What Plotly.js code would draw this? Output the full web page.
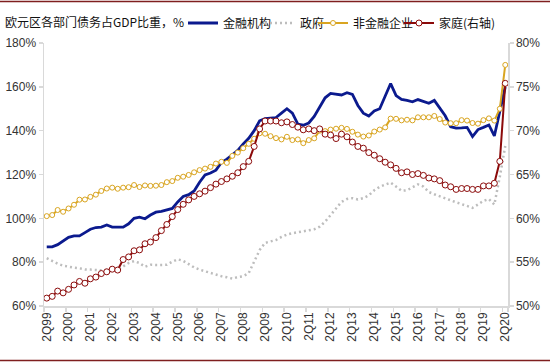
<!DOCTYPE html>
<html>
<head>
<meta charset="utf-8">
<script src="https://cdn.plot.ly/plotly-3.0.1.min.js"></script>
<style>
html,body{margin:0;padding:0;background:#fff;}
#chart{width:550px;height:362px;}
</style>
</head>
<body>
<div id="chart"></div>
<script>
// ---- Data ----
const tickLabels = ['2Q99','2Q00','2Q01','2Q02','2Q03','2Q04','2Q05','2Q06','2Q07','2Q08','2Q09','2Q10','2Q11','2Q12','2Q13','2Q14','2Q15','2Q16','2Q17','2Q18','2Q19','2Q20'];

// quarterly categories 2Q99 .. 2Q20
const quarters = [];
for (let y = 1999; y <= 2020; y++) {
  for (let q = 1; q <= 4; q++) {
    if ((y === 1999 && q < 2) || (y === 2020 && q > 2)) continue;
    quarters.push(q + 'Q' + String(y).slice(2));
  }
}

const seriesNames = ['金融机构', '政府', '非金融企业', '家庭(右轴)'];

const financial = [87, 87, 88, 89.5, 91.3, 92, 92, 93.5, 95, 95.8,
  96, 97, 96, 96, 96, 97.5, 100, 100.5, 99.8, 101.5,
  102.8, 103.2, 104, 104.5, 107.5, 110, 110.8, 112.5, 116.5, 119.8,
  120.7, 122, 125.5, 127, 129, 131, 134, 136.5, 140, 144.5,
  145.5, 145.7, 146, 148, 150, 148, 143, 142.5, 143.5, 146.5,
  150.5, 155, 157, 156.5, 156.3, 157.3, 156.5, 151.5, 148, 146.7,
  149, 150, 155.5, 161.5, 156, 154.3, 153.8, 153.2, 154.2, 153.5,
  152.5, 153.8, 150, 146.8, 141.8, 141.2, 141.3, 141.5, 137.3, 140.5,
  141.5, 142.6, 137.6, 149.5, 160];

const government = [81.8, 80.5, 79.3, 78.4, 77.8, 77.5, 77.2, 76.7, 76.6, 76.3,
  76.3, 76.5, 75.8, 76.5, 78.2, 79.6, 80.5, 79.6, 77.9, 78.8,
  78.7, 78.6, 78.8, 80.2, 81.3, 80.6, 79, 77.6, 76.6, 75.8,
  75.1, 74.3, 73.6, 73.1, 72.5, 73.2, 73.6, 75, 80, 85.5,
  88.8, 89.6, 90.1, 91.5, 92.6, 93.2, 93.6, 94, 94.5, 95,
  96.2, 98.5, 101.5, 104.5, 107.5, 108.8, 109.2, 108.6, 109.2, 110.5,
  112.8, 114.4, 115.2, 116.3, 114.5, 112.6, 112.8, 114.2, 115.5, 114.5,
  112, 111, 110, 109, 108, 107.3, 106.5, 105.8, 104.8, 106.3,
  108, 108.8, 106.3, 119, 133];

const nonFinancial = [101, 101.5, 103.8, 103, 104.5, 106.2, 108.5, 108.6, 109.8, 110.8,
  112.5, 113.6, 114, 113.5, 114, 114.2, 115.2, 114.3, 115, 114.8,
  114.9, 115.2, 116.5, 117, 118.5, 119, 119.8, 121, 122, 122.7,
  123.5, 125, 125.8, 125.3, 128.5, 130, 132, 134, 136.3, 138.8,
  138.6, 137.5, 136.6, 136, 137.2, 135.7, 136, 134.3, 135.7, 136.5,
  140, 139.8, 140.5, 140.9, 141.3, 140.8, 139.5, 138.2, 137.3, 137.8,
  139.6, 140.5, 141.5, 145.5, 145.4, 144.7, 145, 144.7, 146.1, 146.1,
  146.1, 146.7, 145.3, 143.7, 143.4, 143.4, 144.8, 144.6, 143.5, 143.2,
  144.8, 145.6, 144.6, 150, 170];

const household = [50.9, 51.1, 51.7, 51.5, 51.9, 52.4, 52.8, 52.6, 53.1, 53.3,
  53.7, 53.9, 54.2, 54.1, 55.3, 55.6, 56.3, 56.4, 57.1, 57.3,
  57.8, 58.6, 59.3, 60.2, 61.0, 61.6, 62.1, 62.5, 62.8, 63.1,
  63.5, 63.9, 64.2, 64.5, 64.8, 65.2, 65.9, 66.5, 68.2, 70.2,
  71.1, 71.1, 71.1, 70.9, 71.0, 70.7, 70.4, 70.1, 70.2, 70.0,
  70.2, 69.6, 69.5, 69.1, 69.6, 69.3, 68.7, 68.2, 68.0, 67.5,
  67.2, 66.8, 66.4, 66.1, 65.7, 65.2, 65.3, 65.0, 65.1, 64.9,
  64.6, 64.5, 64.3, 63.8, 63.6, 63.3, 63.4, 63.4, 63.3, 63.3,
  63.7, 63.7, 64.0, 66.5, 75.4];

// ---- Styles ----
const C_NAVY = '#0B1A8E', C_GREY = '#BDBDBD', C_GOLD = '#D9A521', C_RED = '#8B0A0A';
const AX = '#D9D9D9';
const TXT = '#333333';
const CJK = '"Noto Sans CJK SC", "Noto Sans", sans-serif';
const LAT = '"Liberation Sans", Arial, sans-serif';

const traces = [
  { x: quarters, y: government, name: seriesNames[1], type: 'scatter', mode: 'lines',
    line: { color: C_GREY, width: 2.5, dash: '2px,3px' }, legend: 'legend2', yaxis: 'y' },
  { x: quarters, y: financial, name: seriesNames[0], type: 'scatter', mode: 'lines',
    line: { color: C_NAVY, width: 2.8 }, legend: 'legend', yaxis: 'y' },
  { x: quarters, y: nonFinancial, name: seriesNames[2], type: 'scatter', mode: 'lines+markers',
    line: { color: C_GOLD, width: 2 },
    marker: { symbol: 'circle', size: 5, color: '#ffffff', line: { color: C_GOLD, width: 1 } },
    legend: 'legend3', yaxis: 'y' },
  { x: quarters, y: household, name: seriesNames[3], type: 'scatter', mode: 'lines+markers',
    line: { color: C_RED, width: 2 },
    marker: { symbol: 'circle', size: 6, color: '#ffffff', line: { color: C_RED, width: 1 } },
    legend: 'legend4', yaxis: 'y2' }
];

const legY = 1 - 23 / 362;
function leg(px) {
  return { orientation: 'h', xref: 'container', yref: 'container', x: px / 550, y: legY,
    xanchor: 'left', yanchor: 'middle', bgcolor: 'rgba(0,0,0,0)', borderwidth: 0,
    font: { family: CJK, size: 12, color: '#111' } };
}

const layout = {
  width: 550, height: 362,
  margin: { l: 44, r: 42, t: 43, b: 56, pad: 0 },
  paper_bgcolor: '#ffffff', plot_bgcolor: '#ffffff',
  showlegend: true,
  title: { text: '欧元区各部门债务占GDP比重，%', xref: 'container', yref: 'container',
    x: 5 / 550, xanchor: 'left', y: legY, yanchor: 'middle',
    font: { family: CJK, size: 12, color: '#111' } },
  legend: leg(183), legend2: leg(260), legend3: leg(313), legend4: leg(399),
  xaxis: {
    type: 'category', categoryorder: 'array', categoryarray: quarters,
    range: [-0.5, quarters.length - 0.5],
    tickmode: 'array', tickvals: tickLabels, ticktext: tickLabels,
    tickson: 'boundaries', tickangle: -90,
    ticks: 'outside', ticklen: 4, tickcolor: AX, tickwidth: 1.5,
    showline: true, linecolor: AX, linewidth: 1.5, showgrid: false, zeroline: false,
    tickfont: { family: LAT, size: 12, color: TXT }, fixedrange: true
  },
  yaxis: {
    range: [60, 180], dtick: 20, tick0: 60, ticksuffix: '%',
    ticks: 'outside', ticklen: 4, tickcolor: AX, tickwidth: 1.5,
    showline: true, linecolor: AX, linewidth: 1.5, showgrid: false, zeroline: false,
    tickfont: { family: LAT, size: 12, color: TXT }
  },
  yaxis2: {
    overlaying: 'y', side: 'right', range: [50, 80], dtick: 5, tick0: 50, ticksuffix: '%',
    ticks: 'outside', ticklen: 4, tickcolor: AX, tickwidth: 1.5,
    showline: true, linecolor: AX, linewidth: 1.5, showgrid: false, zeroline: false,
    tickfont: { family: LAT, size: 12, color: TXT }
  },
  shapes: [
    { type: 'line', xref: 'paper', yref: 'paper', x0: -44 / 464, x1: 506 / 464,
      y0: (306 - 1.5) / 263, y1: (306 - 1.5) / 263, line: { color: '#7F1F1F', width: 1.5 } },
    { type: 'line', xref: 'paper', yref: 'paper', x0: -44 / 464, x1: 506 / 464,
      y0: (306 - 360.5) / 263, y1: (306 - 360.5) / 263, line: { color: '#7F1F1F', width: 1.5 } }
  ]
};

Plotly.newPlot('chart', traces, layout, { staticPlot: true, displayModeBar: false });
</script>
</body>
</html>
